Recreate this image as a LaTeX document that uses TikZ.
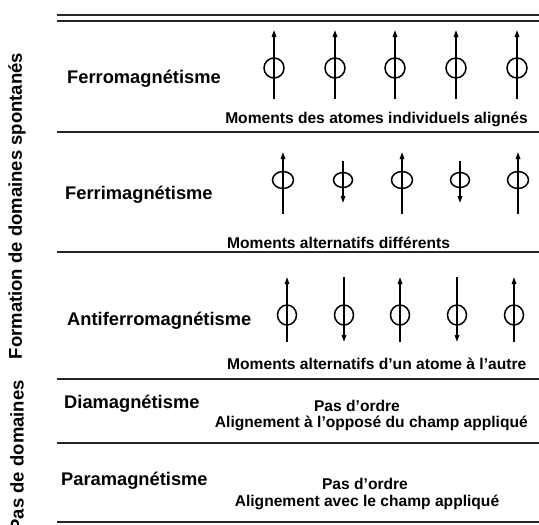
\documentclass[tikz,border=0pt]{standalone}
\usepackage{fontspec}
\setmainfont{Liberation Sans}
\usetikzlibrary{arrows.meta}
\newcommand\spinup[6]{% x, tip, tail, circle y, rx, ry
  \draw[atom] (#1,#4) ellipse [x radius=#5pt, y radius=#6pt];
  \draw[spin] (#1,#3) -- (#1,#2);}
\newcommand\spindown[6]{% x, top, tip, circle y, rx, ry
  \draw[atom] (#1,#4) ellipse [x radius=#5pt, y radius=#6pt];
  \draw[spin] (#1,#2) -- (#1,#3);}
\begin{document}
\begin{tikzpicture}[x=1pt,y=-1pt,
  rule/.style={line width=2.6pt, draw=black!85},
  lab/.style={font=\bfseries\fontsize{18.3}{21}\selectfont, anchor=west, inner sep=0pt},
  sub/.style={font=\bfseries\fontsize{15.6}{18}\selectfont, inner sep=0pt},
  side/.style={font=\bfseries\fontsize{18.5}{22}\selectfont, rotate=90, inner sep=0pt},
  spin/.style={line width=1.5pt, -{Triangle[length=7pt,width=4.5pt]}},
  atom/.style={line width=1.5pt}]
\useasboundingbox (0,0) rectangle (539,525);
\fill[white] (0,0) rectangle (539,525);

% horizontal rules
\coordinate (t1l) at (57,15);  \coordinate (t1r) at (539,15);
\coordinate (t2l) at (57,21);  \coordinate (t2r) at (539,21);
\coordinate (r1l) at (57,132); \coordinate (r1r) at (539,132);
\coordinate (r2l) at (57,252); \coordinate (r2r) at (539,252);
\coordinate (r3l) at (57,379); \coordinate (r3r) at (539,379);
\coordinate (r4l) at (57,443); \coordinate (r4r) at (539,443);
\coordinate (r5l) at (57,522); \coordinate (r5r) at (539,522);
\draw[rule, line width=2.2pt] (t1l) -- (t1r);
\draw[rule, line width=2.2pt] (t2l) -- (t2r);
\draw[rule] (r1l) -- (r1r);
\draw[rule] (r2l) -- (r2r);
\draw[rule] (r3l) -- (r3r);
\draw[rule] (r4l) -- (r4r);
\draw[rule] (r5l) -- (r5r);

% side labels
\node[side] (formation) at (17,206) {Formation de domaines spontanés};
\node[side, anchor=east] (pasdom) at (17,380) {Pas de domaines};

% Ferromagnetisme
\node[lab] (ferro) at (67,79) {Ferromagnétisme};
\foreach \x in {274,335,395,456,517} {\spinup{\x}{30}{99}{68}{10}{10}}
\node[sub, anchor=east] (ferrosub) at (528,119) {Moments des atomes individuels alignés};

% Ferrimagnetisme
\node[lab] (ferri) at (65,195) {Ferrimagnétisme};
\foreach \x in {283,402,518} {\spinup{\x}{152}{214}{180}{10.5}{8.5}}
\foreach \x in {343,460} {\spindown{\x}{161}{203}{180}{9.5}{7.5}}
\node[sub, anchor=west] (ferrisub) at (227,243) {Moments alternatifs différents};

% Antiferromagnetisme
\node[lab] (antiferro) at (67,321) {Antiferromagnétisme};
\foreach \x in {287,400,514} {\spinup{\x}{277}{342}{315}{9.5}{10}}
\foreach \x in {344,457} {\spindown{\x}{277}{342}{315}{9.5}{10}}
\node[sub, anchor=west] (antisub) at (227,364) {Moments alternatifs d’un atome à l’autre};

% Diamagnetisme
\node[lab] (dia) at (64,404) {Diamagnétisme};
\node[sub] (diapas) at (357,406) {Pas d’ordre};
\node[sub, anchor=east] (diasub) at (528,423) {Alignement à l’opposé du champ appliqué};

% Paramagnetisme
\node[lab] (para) at (61,481) {Paramagnétisme};
\node[sub] (parapas) at (365,484) {Pas d’ordre};
\node[sub] (parasub) at (367,502) {Alignement avec le champ appliqué};
\end{tikzpicture}
\end{document}
